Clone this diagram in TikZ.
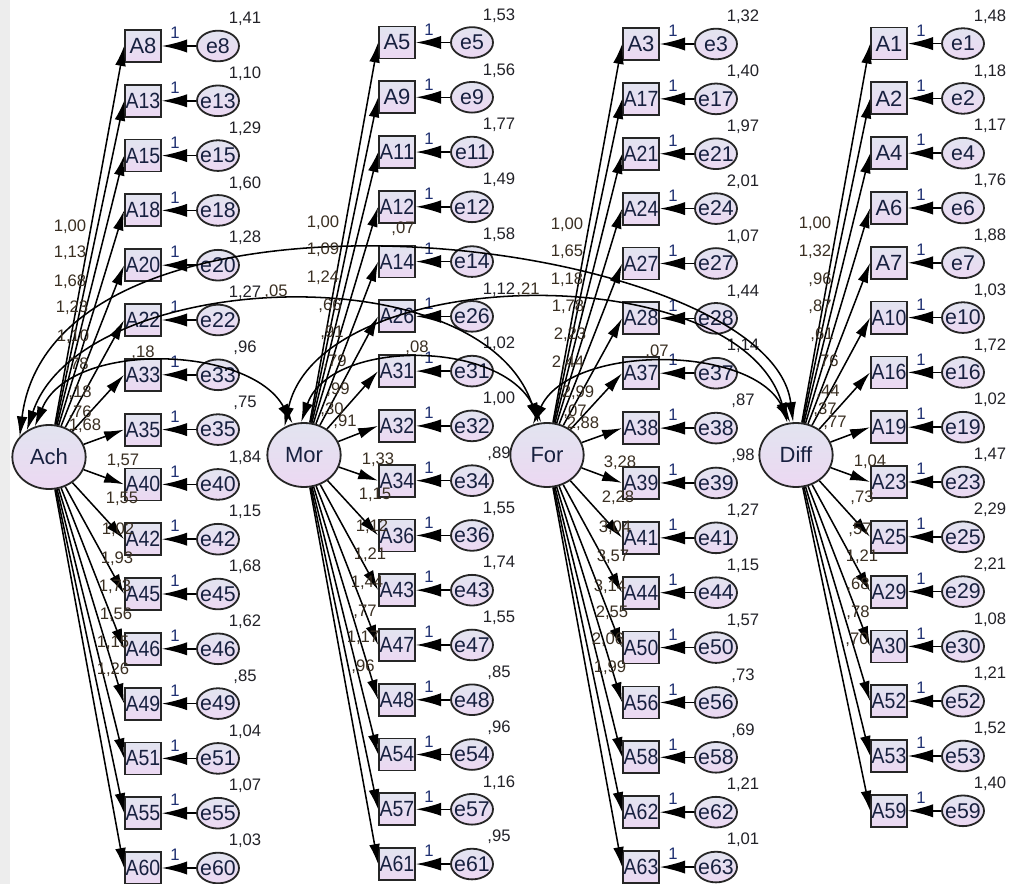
\documentclass[tikz,border=0pt]{standalone}
\usepackage{fontspec}
\setmainfont{Liberation Sans}
\usetikzlibrary{arrows.meta,shapes.geometric}
\definecolor{boxtop}{HTML}{E2E4F0}
\definecolor{boxbot}{HTML}{ECD8F2}
\definecolor{edge}{HTML}{262626}
\definecolor{lbl}{HTML}{17203F}
\definecolor{loadc}{HTML}{3A2F22}
\definecolor{varc}{HTML}{222228}
\definecolor{onec}{HTML}{1E2F70}
\newsavebox\fitsave
\newcommand\fitlab[1]{\sbox\fitsave{#1}\ifdim\wd\fitsave>26pt\resizebox{26pt}{\height}{\usebox\fitsave}\else\usebox\fitsave\fi}
\begin{document}
\begin{tikzpicture}[x=0.75pt,y=-0.75pt,
  obs/.style={draw=edge,line width=1.35pt,rectangle,minimum width=27pt,minimum height=24pt,inner sep=0pt,top color=boxtop,bottom color=boxbot,font=\fontsize{16.5}{17}\selectfont,text=lbl},
  err/.style={draw=edge,line width=1.35pt,ellipse,minimum width=31.5pt,minimum height=23pt,inner sep=0pt,top color=boxtop,bottom color=boxbot,font=\fontsize{16}{17}\selectfont,text=lbl},
  lat/.style={draw=edge,line width=1.35pt,ellipse,minimum width=55pt,minimum height=48pt,inner sep=0pt,top color=boxtop,bottom color=boxbot,font=\fontsize{16.5}{18}\selectfont,text=lbl},
  load/.style={draw=black,line width=1.15pt,-{Latex[length=15pt,width=8pt]}},
  earr/.style={draw=black,line width=1.15pt,-{Latex[length=19pt,width=10pt]}},
  cov/.style={draw=black,line width=1.15pt,{Latex[length=15pt,width=8pt]}-{Latex[length=15pt,width=8pt]}},
  num/.style={font=\fontsize{12.5}{13}\selectfont,text=varc,inner sep=0pt},
  ldnum/.style={font=\fontsize{12.5}{13}\selectfont,text=loadc,inner sep=0pt},
  onenum/.style={font=\fontsize{12.5}{13}\selectfont,text=onec,inner sep=0pt}]
\useasboundingbox (0,0) rectangle (1010,884);
\fill[white] (0,0) rectangle (1010,884);
\fill[black!7] (0,0) rectangle (10,884);

% latent variables
\node[lat] (Ach) at (49,457) {Ach};
\node[lat] (Mor) at (304,455) {Mor};
\node[lat] (For) at (547,455) {For};
\node[lat] (Diff) at (796,455) {Diff};

% Ach column
\foreach \a/\e/\v [count=\k from 0] in {A8/e8/{1,41},A13/e13/{1,10},A15/e15/{1,29},A18/e18/{1,60},A20/e20/{1,28},A22/e22/{1,27},A33/e33/{,96},A35/e35/{,75},A40/e40/{1,84},A42/e42/{1,15},A45/e45/{1,68},A46/e46/{1,62},A49/e49/{,85},A51/e51/{1,04},A55/e55/{1,07},A60/e60/{1,03}}{
  \pgfmathsetmacro\yy{46+54.8*\k}
  \node[obs] (\a) at (143,\yy) {\fitlab{\a}};
  \node[err] (\e) at (218,\yy) {\makebox[0pt]{\e}};
  \draw[earr] (\e) -- (\a);
  \draw[load] (Ach) -- (\a.west);
  \node[onenum] (one\a) at (175,\yy-13) {1};
  \node[num] (var\e) at (245,\yy-27) {\v};
}
% Mor column
\foreach \a/\e/\v [count=\k from 0] in {A5/e5/{1,53},A9/e9/{1,56},A11/e11/{1,77},A12/e12/{1,49},A14/e14/{1,58},A26/e26/{1,12},A31/e31/{1,02},A32/e32/{1,00},A34/e34/{,89},A36/e36/{1,55},A43/e43/{1,74},A47/e47/{1,55},A48/e48/{,85},A54/e54/{,96},A57/e57/{1,16},A61/e61/{,95}}{
  \pgfmathsetmacro\yy{42.5+54.77*\k}
  \node[obs] (\a) at (397,\yy) {\fitlab{\a}};
  \node[err] (\e) at (472,\yy) {\makebox[0pt]{\e}};
  \draw[earr] (\e) -- (\a);
  \draw[load] (Mor) -- (\a.west);
  \node[onenum] (one\a) at (429,\yy-13) {1};
  \node[num] (var\e) at (499,\yy-27) {\v};
}
% For column
\foreach \a/\e/\v [count=\k from 0] in {A3/e3/{1,32},A17/e17/{1,40},A21/e21/{1,97},A24/e24/{2,01},A27/e27/{1,07},A28/e28/{1,44},A37/e37/{1,14},A38/e38/{,87},A39/e39/{,98},A41/e41/{1,27},A44/e44/{1,15},A50/e50/{1,57},A56/e56/{,73},A58/e58/{,69},A62/e62/{1,21},A63/e63/{1,01}}{
  \pgfmathsetmacro\yy{44+54.87*\k}
  \node[obs] (\a) at (641,\yy) {\fitlab{\a}};
  \node[err] (\e) at (716,\yy) {\makebox[0pt]{\e}};
  \draw[earr] (\e) -- (\a);
  \draw[load] (For) -- (\a.west);
  \node[onenum] (one\a) at (673,\yy-13) {1};
  \node[num] (var\e) at (743,\yy-27) {\v};
}
% Diff column
\foreach \a/\e/\v [count=\k from 0] in {A1/e1/{1,48},A2/e2/{1,18},A4/e4/{1,17},A6/e6/{1,76},A7/e7/{1,88},A10/e10/{1,03},A16/e16/{1,72},A19/e19/{1,02},A23/e23/{1,47},A25/e25/{2,29},A29/e29/{2,21},A30/e30/{1,08},A52/e52/{1,21},A53/e53/{1,52},A59/e59/{1,40}}{
  \pgfmathsetmacro\yy{43.6+54.8*\k}
  \node[obs] (\a) at (889,\yy) {\fitlab{\a}};
  \node[err] (\e) at (963,\yy) {\makebox[0pt]{\e}};
  \draw[earr] (\e) -- (\a);
  \draw[load] (Diff) -- (\a.west);
  \node[onenum] (one\a) at (921,\yy-13) {1};
  \node[num] (var\e) at (990,\yy-27) {\v};
}

% covariances
\draw[cov] (Ach.145) .. controls (55,150) and (770,235) .. (Diff.95);
\draw[cov] (Ach.130) .. controls (80,270) and (480,250) .. (For.105);
\draw[cov] (Ach.115) .. controls (70,340) and (250,345) .. (Mor.110);
\draw[cov] (Mor.95) .. controls (330,339) and (500,339) .. (For.100);
\draw[cov] (Mor.125) .. controls (320,262) and (740,255) .. (Diff.105);
\draw[cov] (For.115) .. controls (570,344) and (750,344) .. (Diff.100);

\node[ldnum] (cAM) at (143,353) {,18};
\node[ldnum] (cAD) at (403,229) {,07};
\node[ldnum] (cMF) at (417,348) {,08};
\node[ldnum] (cFD) at (657,352) {,07};
\node[ldnum] (cAF) at (276,292) {,05};
\node[ldnum] (cMD) at (528,290) {,21};

% loading labels
\foreach \x/\y/\t [count=\i] in {
 70/227/{1,00},70/253/{1,13},70/282/{1,68},72/308/{1,23},73/337/{1,10},77/365/{,78},80/393/{,18},80/413/{,76},85/426/{1,68},
 123/461/{1,57},122/499/{1,55},118/530/{1,02},117/559/{1,93},115/587/{1,73},116/615/{1,56},113/643/{1,15},113/670/{1,26},
 323/223/{1,00},323/250/{1,09},323/278/{1,24},330/306/{,66},332/333/{,91},335/362/{,79},338/390/{,99},332/410/{,30},345/422/{,91},
 378/460/{1,33},375/495/{1,15},372/527/{1,12},370/555/{1,21},367/583/{1,44},365/612/{,77},363/638/{1,17},363/667/{,96},
 567/225/{1,00},567/252/{1,65},567/280/{1,18},568/307/{1,78},570/335/{2,23},568/363/{2,44},578/393/{2,99},575/412/{,07},583/424/{2,88},
 620/463/{3,28},618/498/{2,28},615/528/{3,04},613/557/{3,57},610/587/{3,14},612/613/{2,55},608/640/{2,06},610/668/{1,99},
 815/224/{1,00},815/252/{1,32},820/280/{,96},820/307/{,87},822/335/{,61},827/362/{,76},828/392/{,44},825/410/{,37},835/423/{,77},
 870/462/{1,04},862/498/{,73},860/530/{,57},862/557/{1,21},858/585/{,68},858/613/{,78},857/640/{,70}}{
  \node[ldnum] (ld\i) at (\x,\y) {\t};
}
\end{tikzpicture}
\end{document}
